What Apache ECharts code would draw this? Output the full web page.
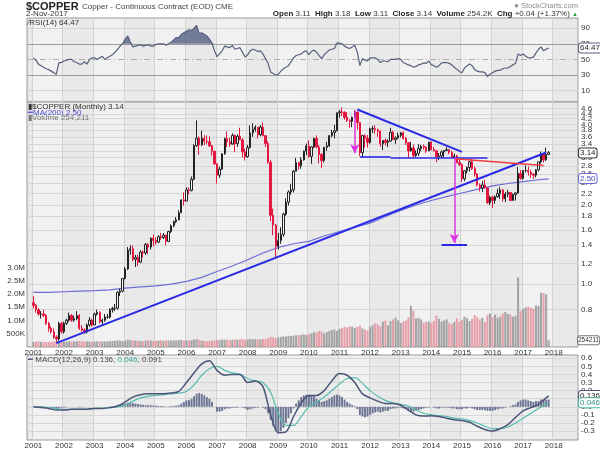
<!DOCTYPE html>
<html><head><meta charset="utf-8">
<script src="https://cdn.jsdelivr.net/npm/echarts@6/dist/echarts.min.js"></script>
<style>html,body{margin:0;padding:0;background:#fff}#c{width:600px;height:450px}</style>
</head><body><div id="c"></div>
<script>
// ---------- DATA (monthly, Jan 2001 .. Nov 2017) ----------
const firstMonth = '2001-01';
const openPx = [
 .85,.83,.80,.77,.77,.76,.71,.68,.66,.63,.62,.71,
 .66,.71,.73,.76,.73,.74,.76,.68,.67,.66,.70,.73,
 .70,.77,.78,.72,.73,.75,.75,.80,.81,.81,.93,.94,
 1.05,1.14,1.34,1.36,1.24,1.26,1.21,1.32,1.31,1.41,1.38,1.49,
 1.46,1.44,1.51,1.50,1.53,1.45,1.58,1.66,1.72,1.75,1.86,2.08,
 2.06,2.27,2.26,2.49,3.34,3.56,3.36,3.56,3.47,3.45,3.33,3.18,
 2.85,2.58,2.72,3.11,3.55,3.45,3.38,3.65,3.40,3.62,3.51,3.16,
 3.03,3.28,3.73,3.85,3.92,3.67,3.92,3.64,3.40,2.89,1.82,1.67,
 1.39,1.46,1.54,1.84,2.04,2.23,2.27,2.67,2.88,2.80,2.95,3.18,
 3.33,3.04,3.30,3.55,3.30,3.09,2.93,3.29,3.33,3.64,3.74,3.80,
 4.44,4.48,4.46,4.27,4.15,4.12,4.27,4.47,4.08,3.14,3.64,3.56,
 3.43,3.86,3.87,3.83,3.79,3.39,3.49,3.43,3.47,3.75,3.52,3.57,
 3.65,3.73,3.55,3.42,3.19,3.27,3.06,3.12,3.26,3.32,3.29,3.19,
 3.44,3.23,3.19,3.03,3.05,3.16,3.20,3.22,3.15,3.02,3.05,2.88,
 2.83,2.50,2.68,2.76,2.90,2.73,2.61,2.37,2.31,2.37,2.31,2.03,
 2.13,2.07,2.14,2.20,2.27,2.10,2.19,2.22,2.07,2.18,2.21,2.62,
 2.51,2.69,2.69,2.65,2.60,2.58,2.70,2.90,3.11,2.95,3.09
];
const closePx = [
 .83,.80,.77,.77,.76,.71,.68,.66,.63,.62,.71,.66,
 .71,.73,.76,.73,.74,.76,.68,.67,.66,.70,.73,.70,
 .77,.78,.72,.73,.75,.75,.80,.81,.81,.93,.94,1.05,
 1.14,1.34,1.36,1.24,1.26,1.21,1.32,1.31,1.41,1.38,1.49,1.46,
 1.44,1.51,1.50,1.53,1.45,1.58,1.66,1.72,1.75,1.86,2.08,2.06,
 2.27,2.26,2.49,3.34,3.56,3.36,3.56,3.47,3.45,3.33,3.18,2.85,
 2.58,2.72,3.11,3.55,3.45,3.38,3.65,3.40,3.62,3.51,3.16,3.03,
 3.28,3.73,3.85,3.92,3.67,3.92,3.64,3.40,2.89,1.82,1.67,1.39,
 1.46,1.54,1.84,2.04,2.23,2.27,2.67,2.88,2.80,2.95,3.18,3.33,
 3.04,3.30,3.55,3.30,3.09,2.93,3.29,3.33,3.64,3.74,3.80,4.44,
 4.48,4.46,4.27,4.15,4.12,4.27,4.47,4.08,3.14,3.64,3.56,3.43,
 3.86,3.87,3.83,3.79,3.39,3.49,3.43,3.47,3.75,3.52,3.57,3.65,
 3.73,3.55,3.42,3.19,3.27,3.06,3.12,3.26,3.32,3.29,3.19,3.44,
 3.23,3.19,3.03,3.05,3.16,3.20,3.22,3.15,3.02,3.05,2.88,2.83,
 2.50,2.68,2.76,2.90,2.73,2.61,2.37,2.31,2.37,2.31,2.03,2.13,
 2.07,2.14,2.20,2.27,2.10,2.19,2.22,2.07,2.18,2.21,2.62,2.51,
 2.69,2.69,2.65,2.60,2.58,2.70,2.90,3.11,2.95,3.09,3.14
];
const lowPx = [
 .81,.78,.76,.74,.75,.70,.66,.65,.62,.60,.61,.65,
 .65,.70,.72,.72,.72,.73,.67,.66,.65,.65,.69,.69,
 .70,.76,.71,.70,.72,.74,.74,.78,.79,.80,.90,.93,
 1.04,1.13,1.29,1.22,1.16,1.17,1.20,1.26,1.29,1.30,1.35,1.39,
 1.41,1.43,1.47,1.48,1.40,1.44,1.56,1.64,1.70,1.74,1.86,1.98,
 2.06,2.18,2.24,2.47,3.30,3.08,3.33,3.35,3.38,3.30,3.06,2.82,
 2.40,2.52,2.70,3.08,3.30,3.30,3.40,3.15,3.30,3.50,3.01,2.93,
 3.00,3.26,3.60,3.77,3.55,3.62,3.62,3.30,2.85,1.73,1.53,1.26,
 1.35,1.42,1.51,1.81,1.98,2.18,2.22,2.67,2.70,2.73,2.93,3.07,
 3.00,2.85,3.26,3.26,2.86,2.75,2.88,3.19,3.30,3.59,3.56,3.78,
 4.26,4.32,4.18,4.10,3.90,3.92,4.26,3.84,3.05,3.00,3.28,3.28,
 3.39,3.73,3.70,3.60,3.31,3.21,3.34,3.30,3.45,3.50,3.39,3.53,
 3.59,3.52,3.36,3.00,3.17,3.02,3.02,3.05,3.18,3.22,3.13,3.18,
 3.20,3.17,2.89,2.94,3.00,3.01,3.18,3.10,3.01,2.97,2.86,2.79,
 2.43,2.45,2.62,2.66,2.70,2.55,2.34,2.24,2.23,2.29,2.01,1.99,
 1.94,2.01,2.12,2.10,2.05,2.04,2.13,2.06,2.07,2.07,2.20,2.48,
 2.48,2.64,2.57,2.52,2.50,2.53,2.67,2.85,2.88,2.92,3.08
];
const highPx = [
 .90,.84,.81,.79,.80,.77,.72,.69,.68,.64,.72,.72,
 .72,.74,.78,.77,.76,.79,.77,.70,.68,.71,.75,.74,
 .78,.80,.79,.74,.77,.77,.81,.82,.84,.94,.96,1.05,
 1.16,1.38,1.40,1.40,1.29,1.29,1.34,1.34,1.43,1.43,1.50,1.54,
 1.50,1.53,1.56,1.56,1.54,1.59,1.68,1.74,1.79,1.90,2.09,2.22,
 2.32,2.32,2.55,3.38,4.16,3.62,3.80,3.65,3.64,3.62,3.36,3.18,
 2.85,2.78,3.12,3.58,3.78,3.58,3.71,3.67,3.68,3.90,3.56,3.25,
 3.36,3.98,4.05,3.98,3.93,3.99,4.08,3.64,3.47,2.95,1.93,1.69,
 1.56,1.64,1.86,2.11,2.26,2.39,2.70,3.00,2.90,3.02,3.20,3.40,
 3.49,3.32,3.58,3.65,3.35,3.13,3.30,3.45,3.66,3.83,4.00,4.46,
 4.55,4.65,4.50,4.47,4.20,4.30,4.52,4.49,4.10,3.67,3.68,3.66,
 3.90,3.96,3.99,3.87,3.80,3.50,3.55,3.52,3.90,3.80,3.62,3.74,
 3.76,3.78,3.60,3.44,3.45,3.37,3.20,3.38,3.36,3.37,3.32,3.46,
 3.46,3.30,3.20,3.13,3.20,3.21,3.29,3.24,3.19,3.11,3.08,2.98,
 2.86,2.70,2.78,2.92,2.98,2.78,2.62,2.40,2.45,2.48,2.32,2.16,
 2.16,2.16,2.29,2.33,2.29,2.23,2.27,2.22,2.20,2.23,2.77,2.70,
 2.70,2.81,2.78,2.70,2.63,2.72,2.90,3.17,3.12,3.28,3.18
];
const volumeK = [
 190,200,210,190,200,185,195,200,210,230,220,180,
 190,200,215,200,205,220,230,215,200,210,205,190,
 200,210,220,205,210,215,220,225,230,250,240,220,
 240,270,260,250,240,230,230,220,240,250,245,220,
 230,240,250,235,245,240,250,245,255,260,270,240,
 250,240,260,280,300,270,240,230,220,230,240,250,
 270,260,280,270,280,260,270,290,280,290,300,270,
 280,300,290,300,280,290,300,310,330,380,360,330,
 360,380,400,390,420,410,430,440,450,460,480,450,
 480,520,560,540,600,580,520,560,600,640,660,600,
 680,720,760,740,780,760,720,760,800,700,660,620,
 760,820,900,860,780,960,1000,820,980,1040,1100,1000,
 900,960,1000,1120,1560,1370,1080,1100,1040,920,940,960,
 900,980,1180,1060,960,1000,1040,900,860,940,1080,960,
 1020,1140,1080,980,1060,1200,1120,1040,1100,940,1200,1260,
 1120,1220,1100,1140,1260,1320,1240,1220,1140,1180,2620,1360,
 1440,1500,1520,1480,1440,1560,1540,2040,2030,1980,254.211
];
const rsi14 = [
 52,49,44,42,40,38,37,35,33,31,46,46,
 48,49,50,50,47,46,44,44,47,44,50,52,
 52,50,52,54,50,52,54,56,59,63,67,70,
 76,80,72,66,67,68,69,67,68,69,67,67,
 69,70,70,70,68,70,72,75,78,78,82,84,
 86,88,87,90,93.5,83,84,82,80,76,71,61,
 53.5,57,61,67,66,65,68,63,64,65,59,53,
 56,61,63,62,60,61,57,51,45,34,32,30,
 31,35,38,40,42,47,52,55,56,57,60,61,
 56,60,62,59,55,51,56,59,62,63,64,71,
 71,70,67,65,64,66,68,59,42,51,49,48,
 52,52,52,50,46,48,48,47,50,50,50,51,
 50,46,44.5,43,42,40,41,43,44,45.5,45,48,
 43,42,40,42,45.5,46,46,45,43,40,37.5,34.5,
 33,39,42,44,42,37,35,34,34,33,28,31,
 33,35,36,36,38,39,39,41,43,45,57,55,
 57,54,52,52,53,58,63,66,61,63,64.47
];
const macdHist = [
 0,-0.005,-0.01,-0.01,-0.01,-0.01,-0.015,-0.015,-0.02,-0.02,-0.015,-0.01,
 -0.01,-0.005,0,0,0,0,-0.005,-0.005,0,0,0,0,
 0,0,0,0,0,0,0.005,0.005,0.01,0.02,0.025,0.035,
 0.04,0.05,0.05,0.045,0.04,0.035,0.03,0.025,0.02,0.02,0.02,0.015,
 0.015,0.01,0.01,0.01,0.005,0.005,0.01,0.01,0.015,0.02,0.04,0.06,
 0.08,0.08,0.10,0.13,0.16,0.17,0.16,0.14,0.12,0.10,0.06,0.0,
 -0.06,-0.06,-0.05,-0.03,-0.02,-0.02,-0.01,-0.01,-0.01,0.0,-0.01,-0.02,
 -0.04,-0.03,-0.02,-0.01,-0.01,0.0,-0.01,-0.03,-0.08,-0.16,-0.24,-0.30,
 -0.32,-0.30,-0.26,-0.20,-0.14,-0.08,-0.02,0.04,0.08,0.12,0.14,0.15,
 0.15,0.14,0.13,0.10,0.08,0.06,0.07,0.08,0.10,0.12,0.14,0.15,
 0.14,0.12,0.09,0.06,0.04,0.02,0.01,-0.03,-0.10,-0.12,-0.13,-0.12,
 -0.10,-0.08,-0.07,-0.06,-0.07,-0.06,-0.05,-0.05,-0.03,-0.02,-0.02,-0.01,
 -0.01,-0.02,-0.03,-0.05,-0.06,-0.06,-0.05,-0.04,-0.03,-0.02,-0.01,-0.01,
 0.0,-0.01,-0.02,-0.02,-0.01,-0.01,-0.01,-0.01,-0.02,-0.02,-0.03,-0.03,
 -0.03,-0.02,-0.02,-0.01,-0.02,-0.03,-0.04,-0.04,-0.04,-0.04,-0.05,-0.05,
 -0.05,-0.04,-0.03,-0.02,-0.02,-0.01,0.0,0.01,0.02,0.03,0.06,0.08,
 0.09,0.09,0.08,0.07,0.06,0.07,0.07,0.09,0.09,0.09,0.09
];
// sparse readings (month offset from Jan 2001, value)
const macdMonth = [0,3,6,9,12,15,18,21,24,27,30,33,36,39,42,45,48,51,54,57,60,63,66,69,72,75,78,81,84,87,90,93,96,99,102,105,108,111,114,117,120,123,126,129,132,135,138,141,144,147,150,153,156,159,162,165,168,171,174,177,180,183,186,189,192,195,198,201,202];
const macdLine = [0.00,-0.01,-0.02,-0.04,-0.04,-0.03,-0.03,-0.03,-0.02,-0.02,-0.01,0.01,
 0.06,0.12,0.15,0.16,0.16,0.16,0.17,0.19,0.30,0.42,0.53,0.57,0.45,0.39,0.40,0.40,
 0.30,0.32,0.25,-0.10,-0.32,-0.31,-0.12,0.05,0.14,0.14,0.20,0.32,0.41,0.39,0.30,0.16,
 0.11,0.07,0.04,0.04,0.02,-0.04,-0.10,-0.115,-0.11,-0.12,-0.14,-0.16,-0.17,-0.19,-0.24,-0.28,
 -0.30,-0.27,-0.22,-0.13,-0.05,-0.01,0.03,0.11,0.136];
const signalLine = [0.0,0.0,-0.01,-0.02,-0.03,-0.03,-0.03,-0.03,-0.02,-0.02,-0.01,0.0,
 0.02,0.07,0.11,0.13,0.14,0.15,0.16,0.17,0.19,0.27,0.39,0.47,0.50,0.45,0.42,0.40,
 0.35,0.32,0.30,0.18,-0.08,-0.23,-0.23,-0.12,0.0,0.06,0.12,0.20,0.28,0.35,0.36,0.29,
 0.20,0.13,0.08,0.05,0.03,0.01,-0.04,-0.08,-0.10,-0.11,-0.12,-0.14,-0.15,-0.17,-0.20,-0.24,
 -0.27,-0.27,-0.25,-0.20,-0.14,-0.08,-0.02,0.03,0.046];
const maMonth = [0,6,12,18,24,30,36,42,48,54,60,66,72,78,84,90,96,102,108,114,120,126,132,138,144,150,156,162,168,174,180,186,192,198,202];
const ma200 = [0.93,0.93,0.935,0.94,0.944,0.95,0.965,0.975,0.985,1.0,1.024,1.06,1.115,1.17,1.235,1.31,1.375,1.42,1.45,1.52,1.58,1.64,1.70,1.80,1.90,1.99,2.07,2.14,2.21,2.28,2.35,2.40,2.44,2.48,2.50];
// tick labels
const priceTicks = [0.8,1.0,1.2,1.4,1.6,1.8,2.0,2.2,2.4,2.6,2.8,3.0,3.2,3.4,3.6,3.8,4.0,4.2,4.4,4.6];
const rsiTicks = [90,70,50,30,10];
const macdTicks = [0.6,0.5,0.4,0.3,0.2,0.1,0.0,-0.1,-0.2,-0.3];
// chart annotations [month, price]
const longTrend = [['2001-10',0.598],['2017-10',3.144]];
const triTop = [['2011-08',4.57],['2015-01',3.16]];
const triBase1 = [['2011-09',3.03],['2012-09',3.03]];
const triBase2 = [['2012-09',3.00],['2015-11',3.00]];
const redLine = [['2014-10',2.976],['2017-09',2.807]];
const arrow1 = [['2011-07',4.55],['2011-07',3.12]];
const arrow2 = [['2014-10',3.00],['2014-10',1.43]];
const targetBar = [['2014-05',1.41],['2015-03',1.41]];

// ---------- BUILD ----------
const months = [];
for (let y = 2000; y <= 2018; y++) for (let mo = 1; mo <= 12; mo++) {
  const k = (y - 2000) * 12 + mo - 1;
  if (k >= 10 && k <= 225) months.push(y + '-' + String(mo).padStart(2, '0'));
}
const OFF = months.indexOf(firstMonth);
const ln = Math.log;
const FONT = "'Liberation Sans Narrow','Liberation Sans',Arial,sans-serif";
const yearTick = (i, v) => /-01$/.test(v);

const candles = closePx.map((c, k) => [k + OFF, ln(openPx[k]), ln(c), ln(lowPx[k]), ln(highPx[k])]);
const vols = volumeK.map((v, k) => ({
  value: [k + OFF, v * 1000],
  itemStyle: { color: (k > 0 && closePx[k] < closePx[k - 1]) ? 'rgba(229,140,152,0.8)' : 'rgba(150,150,150,0.85)' }
}));
const rsiPts = rsi14.map((v, k) => [k + OFF, v]);
const histPts = macdHist.map((v, k) => [k + OFF, v]);
const macdPts = macdLine.map((v, j) => [macdMonth[j] + OFF, v]);
const sigPts = signalLine.map((v, j) => [macdMonth[j] + OFF, v]);
const maPts = ma200.map((v, j) => [maMonth[j] + OFF, ln(v)]);

const seg = (pts, style, endSym) => [
  { coord: [months.indexOf(pts[0][0]), ln(pts[0][1])], lineStyle: style, symbol: 'none' },
  { coord: [months.indexOf(pts[1][0]), ln(pts[1][1])], symbol: endSym || 'none', symbolSize: [7, 9] }
];
const blue = { color: '#2a2ae6', width: 2, type: 'solid' };
const blueThin = { color: '#2a2ae6', width: 1.6, type: 'solid' };
const magenta = { color: '#e033e0', width: 1.5, type: 'solid' };
const red = { color: '#f03c3c', width: 1.6, type: 'solid' };

const tickLabel = { position: 'end', distance: 3, color: '#333', fontSize: 8, fontFamily: FONT };
const boxLabel = (txt, col, tcol, fs) => ({
  show: true, formatter: txt, position: 'end', distance: 1, color: tcol || '#222', fontSize: fs || 8, fontFamily: FONT,
  backgroundColor: '#fff', borderColor: col, borderWidth: 1, borderRadius: 2, padding: [1, 1, 0, 1]
});
const hidden = { color: 'rgba(0,0,0,0)', width: 0.01, type: 'solid' };

const gridBase = { left: 27, right: 22, show: true, backgroundColor: '#f1f1f1', borderColor: '#9a9a9a', borderWidth: 1 };
const xBase = (gi, showLabel) => ({
  type: 'category', gridIndex: gi, data: months, boundaryGap: true,
  axisLine: { show: false }, axisTick: { show: false },
  axisLabel: { show: showLabel, interval: yearTick, formatter: v => v.slice(0, 4), color: '#333', fontSize: 8, fontFamily: FONT, margin: 2 },
  splitLine: { show: true, interval: yearTick, lineStyle: { color: '#d2d2d2', width: 1 } },
  splitArea: { show: true, interval: yearTick, areaStyle: { color: ['rgba(0,0,0,0.03)', 'rgba(0,0,0,0)'] } }
});

const option = {
  animation: false,
  textStyle: { fontFamily: FONT },
  grid: [
    Object.assign({ top: 18, height: 84 }, gridBase),
    Object.assign({ top: 102, height: 245 }, gridBase),
    Object.assign({ top: 355, height: 85 }, gridBase)
  ],
  xAxis: [xBase(0, false), xBase(1, true), xBase(2, true)],
  yAxis: [
    { type: 'value', gridIndex: 0, min: -4.5, max: 103, axisLabel: { show: false }, splitLine: { show: false }, axisLine: { show: false }, axisTick: { show: false } },
    { type: 'value', gridIndex: 1, position: 'right', min: ln(0.578), max: ln(4.88), axisLabel: { show: false }, splitLine: { show: false }, axisLine: { show: false }, axisTick: { show: false } },
    { type: 'value', gridIndex: 1, position: 'left', min: 0, max: 9230000, interval: 500000,
      axisLabel: { showMaxLabel: false, color: '#333', fontSize: 8, fontFamily: FONT, margin: 2,
        formatter: v => (v > 0 && v <= 3000000) ? (v < 1000000 ? (v / 1000) + 'K' : (v / 1000000).toFixed(1) + 'M') : '' },
      splitLine: { show: false }, axisLine: { show: false }, axisTick: { show: false } },
    { type: 'value', gridIndex: 2, min: -0.41, max: 0.64, axisLabel: { show: false }, splitLine: { show: false }, axisLine: { show: false }, axisTick: { show: false } }
  ],
  series: [
    // ---- RSI panel ----
    { name: 'rsiBase', type: 'line', xAxisIndex: 0, yAxisIndex: 0, stack: 'rsi', symbol: 'none', silent: true,
      data: rsiPts.map(p => [p[0], 70]), lineStyle: { opacity: 0 } },
    { name: 'rsiOver', type: 'line', xAxisIndex: 0, yAxisIndex: 0, stack: 'rsi', symbol: 'none', silent: true,
      data: rsiPts.map(p => [p[0], Math.max(0, p[1] - 70)]), lineStyle: { opacity: 0 },
      areaStyle: { color: '#5f6a8a', opacity: 0.85 } },
    { name: 'RSI', type: 'line', xAxisIndex: 0, yAxisIndex: 0, symbol: 'none', z: 4, data: rsiPts,
      lineStyle: { color: '#56607e', width: 1.2 },
      markLine: { silent: true, symbol: ['none', 'none'], z: 1, animation: false,
        data: rsiTicks.map(t => ({ yAxis: t, label: Object.assign({ formatter: String(t) }, tickLabel),
          lineStyle: (t === 70 || t === 30) ? { color: '#9c9c9c', width: 1.2, type: 'solid' }
                   : (t === 50 ? { color: '#b0b0b0', width: 1, type: [6, 3, 1, 3] } : { color: '#d4d4d4', width: 1, type: 'solid' }) })) } },
    { name: 'RSIbox', type: 'line', xAxisIndex: 0, yAxisIndex: 0, symbol: 'none', data: [],
      markLine: { silent: true, symbol: ['none', 'none'], z: 8, animation: false,
        data: [{ yAxis: 64.47, lineStyle: hidden, label: boxLabel('64.47', '#56607e') }] } },
    // ---- Price panel ----
    { name: 'Volume', type: 'bar', xAxisIndex: 1, yAxisIndex: 2, data: vols, barWidth: '80%', z: 1 },
    { name: 'Volbox', type: 'line', xAxisIndex: 1, yAxisIndex: 2, symbol: 'none', data: [],
      markLine: { silent: true, symbol: ['none', 'none'], z: 8, animation: false,
        data: [{ yAxis: 254211, lineStyle: hidden, label: Object.assign(boxLabel('254211', '#777', '#333', 6.5), { distance: 0, padding: [1, 0, 0, 0] }) }] } },
    { name: 'MA200', type: 'line', xAxisIndex: 1, yAxisIndex: 1, symbol: 'none', z: 2, data: maPts,
      lineStyle: { color: '#6c6cd8', width: 1.2 },
      markLine: { silent: true, symbol: ['none', 'none'], z: 0.5, animation: false,
        data: priceTicks.map(t => ({ yAxis: ln(t), lineStyle: { color: '#d6d6d6', width: 1, type: 'solid' },
          label: Object.assign({ formatter: t.toFixed(1) }, tickLabel) })) } },
    { name: 'MA200box', type: 'line', xAxisIndex: 1, yAxisIndex: 1, symbol: 'none', data: [],
      markLine: { silent: true, symbol: ['none', 'none'], z: 8, animation: false,
        data: [{ yAxis: ln(2.50), lineStyle: hidden, label: boxLabel('2.50', '#6c6cd8', '#4a4ab8') },
               { yAxis: ln(3.14), lineStyle: hidden, label: boxLabel('3.14', '#333') }] } },
    { name: '$COPPER', type: 'candlestick', xAxisIndex: 1, yAxisIndex: 1, z: 3, data: candles,
      encode: { x: 0, y: [1, 2, 3, 4] }, barWidth: '72%',
      itemStyle: { color: '#f7f7f7', color0: '#e3173f', borderColor: '#222', borderColor0: '#e3173f', borderWidth: 1 } },
    { name: 'annotations', type: 'line', xAxisIndex: 1, yAxisIndex: 1, symbol: 'none', data: [], z: 6,
      markLine: { silent: true, symbol: ['none', 'none'], z: 6, animation: false, label: { show: false },
        data: [
          seg(longTrend, blue), seg(triTop, blue), seg(triBase1, blueThin), seg(triBase2, blueThin),
          seg(targetBar, blue), seg(redLine, red), seg(arrow1, magenta, 'arrow'), seg(arrow2, magenta, 'arrow')
        ] } },
    // ---- MACD panel ----
    { name: 'hist', type: 'bar', xAxisIndex: 2, yAxisIndex: 3, data: histPts, barWidth: '75%', z: 2,
      itemStyle: { color: '#6b7493' } },
    { name: 'MACD', type: 'line', xAxisIndex: 2, yAxisIndex: 3, data: macdPts, symbol: 'none', smooth: 0.3, z: 4,
      lineStyle: { color: '#4b5577', width: 1.5 },
      markLine: { silent: true, symbol: ['none', 'none'], z: 1, animation: false,
        data: macdTicks.map(t => ({ yAxis: t, lineStyle: { color: '#d6d6d6', width: 1, type: 'solid' },
          label: Object.assign({ formatter: t.toFixed(1) }, tickLabel) })) } },
    { name: 'MACDbox', type: 'line', xAxisIndex: 2, yAxisIndex: 3, symbol: 'none', data: [],
      markLine: { silent: true, symbol: ['none', 'none'], z: 8, animation: false,
        data: [{ yAxis: 0.136, lineStyle: hidden, label: boxLabel('0.136', '#4b5577') },
               { yAxis: 0.046, lineStyle: hidden, label: boxLabel('0.046', '#4fb8a8', '#2f9888') }] } },
    { name: 'Signal', type: 'line', xAxisIndex: 2, yAxisIndex: 3, data: sigPts, symbol: 'none', smooth: 0.3, z: 3,
      lineStyle: { color: '#55bcae', width: 1.2 } }
  ],
  graphic: [
    { type: 'text', left: 26, top: 1, style: { text: '{b|$COPPER} {n|Copper - Continuous Contract (EOD) CME}',
      rich: { b: { fontSize: 11, fontWeight: 'bold', fontFamily: FONT, fill: '#222' }, n: { fontSize: 8, fontFamily: FONT, fill: '#444' } } } },
    { type: 'text', left: 26, top: 10, style: { text: '2-Nov-2017', fontSize: 8, fontFamily: FONT, fill: '#333' } },
    { type: 'text', right: 22, top: 2, style: { text: '● StockCharts.com', fontSize: 7.5, fontFamily: FONT, fill: '#8a8a8a' } },
    { type: 'text', right: 22, top: 10, style: {
      text: '{b|Open} 3.11  {b|High} 3.18  {b|Low} 3.11  {b|Close} 3.14  {b|Volume} 254.2K  {b|Chg} +0.04 (+1.37%) {g|▲}',
      fontSize: 8, fontFamily: FONT, fill: '#333',
      rich: { b: { fontWeight: 'bold', fontSize: 8, fontFamily: FONT, fill: '#222' }, g: { fill: '#2a9a3a', fontSize: 6 } } } },
    { type: 'text', left: 28, top: 19, z: 20, style: { text: '∕RSI(14) 64.47', fontSize: 8, fontFamily: FONT, fill: '#333' } },
    { type: 'text', left: 28, top: 103, z: 20, style: { text: '▮$COPPER (Monthly) 3.14', fontSize: 8, fontFamily: FONT, fill: '#333' } },
    { type: 'text', left: 28, top: 108.5, z: 20, style: { text: '━MA(200) 2.50', fontSize: 8, fontFamily: FONT, fill: '#4a4ad0' } },
    { type: 'text', left: 28, top: 114, z: 20, style: { text: '▮Volume 254,211', fontSize: 8, fontFamily: FONT, fill: '#777' } },
    { type: 'text', left: 28, top: 356, z: 20, style: { text: '{a|━} MACD(12,26,9) 0.136, {t|0.046}, 0.091',
      fontSize: 8, fontFamily: FONT, fill: '#444', rich: { a: { fill: '#4b5577', fontSize: 8 }, t: { fill: '#3aa898', fontSize: 8, fontFamily: FONT } } } }
  ]
};
const chart = echarts.init(document.getElementById('c'), null, { renderer: 'canvas' });
chart.setOption(option);
</script>
</body></html>
